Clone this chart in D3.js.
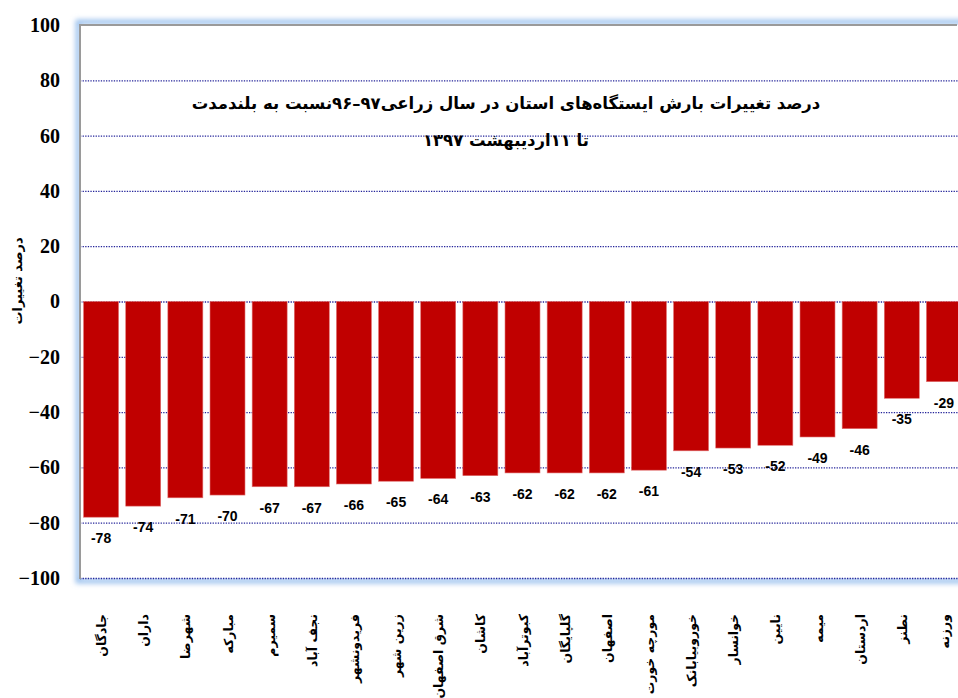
<!DOCTYPE html>
<html>
<head>
<meta charset="utf-8">
<script src="https://cdn.jsdelivr.net/npm/d3@7"></script>
<style>
body { margin: 0; background: #fff; }
svg { display: block; }
</style>
</head>
<body>
<div id="svgContainer"></div>
<script>
// station names (x axis) and precipitation change in percent
var stations = ["جادگان", "داران", "شهرضا", "مبارکه", "سمیرم", "نجف آباد", "فریدونشهر", "زرین شهر",
	"شرق اصفهان", "کاشان", "کبوترآباد", "گلپایگان", "اصفهان", "مورچه خورت", "خوروبیابانک", "خوانسار",
	"نایین", "میمه", "اردستان", "نطنز", "ورزنه"];
var changes = [-78, -74, -71, -70, -67, -67, -66, -65, -64, -63, -62, -62, -62, -61, -54, -53, -52, -49, -46, -35, -29];
var yTicks = [-100, -80, -60, -40, -20, 0, 20, 40, 60, 80, 100];
var titleLines = ["درصد تغییرات بارش ایستگاه‌های استان در سال زراعی۹۷–۹۶نسبت به بلندمدت", "تا ۱۱اردیبهشت ۱۳۹۷"];
var yTitle = "درصد تغییرات";

var width = 958, height = 698;
var svgC = d3.select("#svgContainer").append("svg")
	.attr("width", width)
	.attr("height", height);

var x = d3.scaleBand()
	.domain(stations)
	.range([80, 965])
	.paddingInner(0.17)
	.paddingOuter(0.085);
var y = d3.scaleLinear()
	.domain([-100, 100])
	.range([578, 25]);

//blur used for the light blue frame glow
var defs = svgC.append("defs");
defs.append("filter").attr("id", "glow")
	.append("feGaussianBlur").attr("stdDeviation", 2.5);

svgC.append("rect")
	.attr("x", 78).attr("y", 22)
	.attr("width", 900).attr("height", 559)
	.attr("fill", "none")
	.attr("stroke", "#9cc2ee")
	.attr("stroke-width", 5)
	.attr("filter", "url(#glow)");
svgC.append("rect")
	.attr("x", 80).attr("y", 25)
	.attr("width", 900).attr("height", 553)
	.attr("fill", "#fff");

//dotted grid lines
svgC.append("g").selectAll("line")
	.data(yTicks.filter(function(d) { return d < 100; }))
	.enter().append("line")
	.attr("x1", 80).attr("x2", 958)
	.attr("y1", function(d) { return y(d) + 0.5; })
	.attr("y2", function(d) { return y(d) + 0.5; })
	.attr("stroke", "#24249a")
	.attr("stroke-width", 1.3)
	.attr("stroke-dasharray", "1.3,1.3");

//frame lines top and left
svgC.append("line")
	.attr("x1", 80).attr("x2", 957).attr("y1", 25).attr("y2", 25)
	.attr("stroke", "#9a9a9a").attr("stroke-width", 2);
svgC.append("line")
	.attr("x1", 80).attr("x2", 80).attr("y1", 24).attr("y2", 579)
	.attr("stroke", "#9a9a9a").attr("stroke-width", 2);

//bars
svgC.append("g").selectAll("rect")
	.data(changes)
	.enter().append("rect")
	.attr("x", function(d, i) { return x(stations[i]); })
	.attr("y", y(0))
	.attr("width", x.bandwidth())
	.attr("height", function(d) { return y(d) - y(0); })
	.attr("fill", "#c00000")
	.attr("stroke", "#e07070")
	.attr("stroke-width", 0.6);

//value labels under the bars
svgC.append("g").selectAll("text")
	.data(changes)
	.enter().append("text")
	.attr("x", function(d, i) { return x(stations[i]) + x.bandwidth() / 2; })
	.attr("y", function(d) { return y(d) + 26; })
	.attr("text-anchor", "middle")
	.attr("font-family", "Liberation Sans, Arial, sans-serif")
	.attr("font-weight", "bold")
	.attr("font-size", 14)
	.attr("fill", "#000")
	.text(function(d) { return d; });

//y axis labels
var yAxis = d3.axisLeft(y).tickValues(yTicks).tickSize(0).tickPadding(0);
var yG = svgC.append("g")
	.attr("transform", "translate(60,0)")
	.call(yAxis);
yG.select(".domain").remove();
yG.selectAll("text")
	.attr("font-family", "Liberation Serif, Times New Roman, serif")
	.attr("font-weight", "bold")
	.attr("font-size", 20)
	.attr("fill", "#000");

//y axis title
svgC.append("text")
	.attr("transform", "translate(22,281) rotate(-90)")
	.attr("text-anchor", "middle")
	.attr("font-family", "DejaVu Sans, sans-serif")
	.attr("font-weight", "bold")
	.attr("font-size", 13)
	.text(yTitle);

//x axis labels, rotated
svgC.append("g").selectAll("text")
	.data(stations)
	.enter().append("text")
	.attr("transform", function(d) { return "translate(" + (x(d) + x.bandwidth() / 2 + 5) + ",614) rotate(-90)"; })
	.attr("text-anchor", "end")
	.attr("font-family", "DejaVu Sans, sans-serif")
	.attr("font-weight", "bold")
	.attr("font-size", 12.5)
	.text(function(d) { return d; });

//title, two lines
svgC.append("g").selectAll("text")
	.data(titleLines)
	.enter().append("text")
	.attr("x", 506)
	.attr("y", function(d, i) { return 109 + i * 37; })
	.attr("direction", "rtl")
	.attr("text-anchor", "middle")
	.attr("font-family", "DejaVu Sans, sans-serif")
	.attr("font-weight", "bold")
	.attr("font-size", 16.5)
	.attr("fill", "#000")
	.text(function(d) { return d; });
</script>
</body>
</html>
